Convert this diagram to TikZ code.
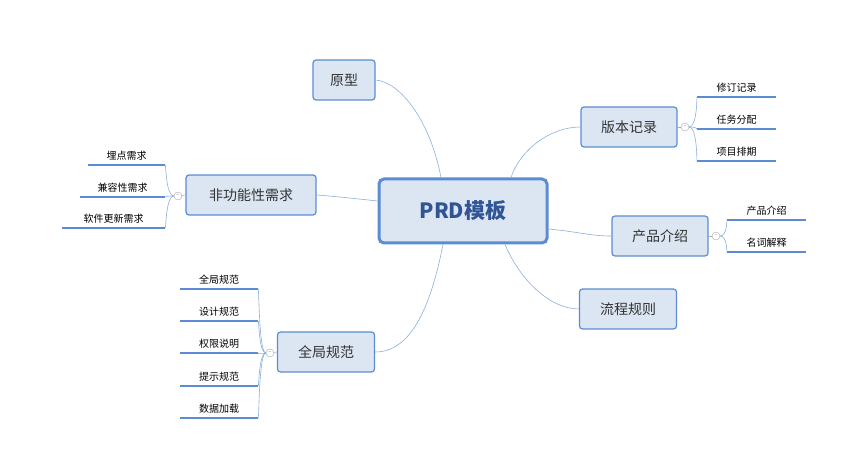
\documentclass[tikz,border=0pt]{standalone}
\usepackage{fontspec}
\usetikzlibrary{calc}
\setmainfont{Noto Sans CJK SC}
\definecolor{bcol}{HTML}{5B8CD3}
\definecolor{fcol}{HTML}{DCE6F2}
\definecolor{lcol}{HTML}{8BAEDD}
\definecolor{tcol}{HTML}{2F5597}
\begin{document}
\begin{tikzpicture}[x=1pt,y=-1pt,
  main/.style={draw=bcol,fill=fcol,rounded corners=3pt,line width=1.2pt,minimum height=40pt,inner xsep=8pt,font=\fontsize{14}{16}\selectfont,text=black!80},
  leaf/.style={inner sep=0pt,minimum height=14pt,font=\fontsize{10}{12}\selectfont,anchor=south},
  ul/.style={draw=bcol,line width=2pt},
  lnk/.style={draw=lcol,line width=0.6pt},
  tog/.style={circle,draw=gray!70,fill=white,inner sep=0pt,minimum size=8pt,font=\fontsize{6}{6}\selectfont,text=gray},
]
\useasboundingbox (0,0) rectangle (855,457);
\node[draw=bcol,fill=fcol,rounded corners=5pt,line width=3pt,minimum width=168pt,minimum height=64pt,font=\fontsize{21}{24}\selectfont\bfseries,text=tcol] (c) at (463,211) {PRD模板};
\node[main,minimum width=62pt] (yx) at (344,80) {原型};
\node[main,minimum width=96pt] (bb) at (629,127) {版本记录};
\node[main,minimum width=96pt] (cp) at (660,236) {产品介绍};
\node[main,minimum width=97pt] (lc) at (628,309) {流程规则};
\node[main,minimum width=130pt] (fg) at (251,195) {非功能性需求};
\node[main,minimum width=97pt] (qj) at (326,352) {全局规范};
\draw[lnk] ($(c.north)+(-22,0)$) .. controls (430,120) and (400,82) .. (yx.east);
\draw[lnk] ($(c.north)+(48,0)$) .. controls (520,150) and (550,127) .. (bb.west);
\draw[lnk] ($(c.east)+(0,18)$) .. controls (580,232) and (590,236) .. (cp.west);
\draw[lnk] ($(c.south)+(42,0)$) .. controls (520,280) and (550,309) .. (lc.west);
\draw[lnk] ($(c.west)+(0,-10)$) .. controls (350,198) and (330,196) .. (fg.east);
\draw[lnk] ($(c.south)+(-20,0)$) .. controls (430,310) and (410,352) .. (qj.east);
% version children
\node[tog] (t1) at (685,127) {--};
\draw[lnk] (bb.east) -- (t1);
\foreach \n/\t/\y in {a/修订记录/97,b/任务分配/129,d/项目排期/161}{
  \node[leaf,minimum width=79pt] (v\n) at (736.5,\y-2) {\t};
  \draw[ul] ($(v\n.south west)+(0,2)$) -- ++(79,0);
  \draw[lnk] (t1) .. controls (697,127) and (697,\y) .. ($(v\n.south west)+(0,2)$);
}
% product children
\node[tog] (t2) at (716,236) {--};
\draw[lnk] (cp.east) -- (t2);
\foreach \n/\t/\y in {a/产品介绍/220,b/名词解释/252}{
  \node[leaf,minimum width=79pt] (p\n) at (766.5,\y-2) {\t};
  \draw[ul] ($(p\n.south west)+(0,2)$) -- ++(79,0);
  \draw[lnk] (t2) .. controls (727,236) and (727,\y) .. ($(p\n.south west)+(0,2)$);
}
% non-functional children
\node[tog] (t3) at (178,196) {--};
\draw[lnk] (fg.west) -- (t3);
\foreach \n/\t/\y/\w in {a/埋点需求/165/77,b/兼容性需求/197/85,d/软件更新需求/228/103}{
  \node[leaf,minimum width=\w pt] (f\n) at (165-\w/2,\y-2) {\t};
  \draw[ul] ($(f\n.south east)+(0,2)$) -- ++(-\w,0);
  \draw[lnk] (t3) .. controls (166,196) and (166,\y) .. ($(f\n.south east)+(0,2)$);
}
% global children
\node[tog] (t4) at (270,353) {--};
\draw[lnk] (qj.west) -- (t4);
\foreach \n/\t/\y in {a/全局规范/289,b/设计规范/321,d/权限说明/353,e/提示规范/386,f/数据加载/418}{
  \node[leaf,minimum width=78pt] (g\n) at (219,\y-2) {\t};
  \draw[ul] ($(g\n.south east)+(0,2)$) -- ++(-78,0);
  \draw[lnk] (t4) .. controls (259,353) and (259,\y) .. ($(g\n.south east)+(0,2)$);
}
\end{tikzpicture}
\end{document}
